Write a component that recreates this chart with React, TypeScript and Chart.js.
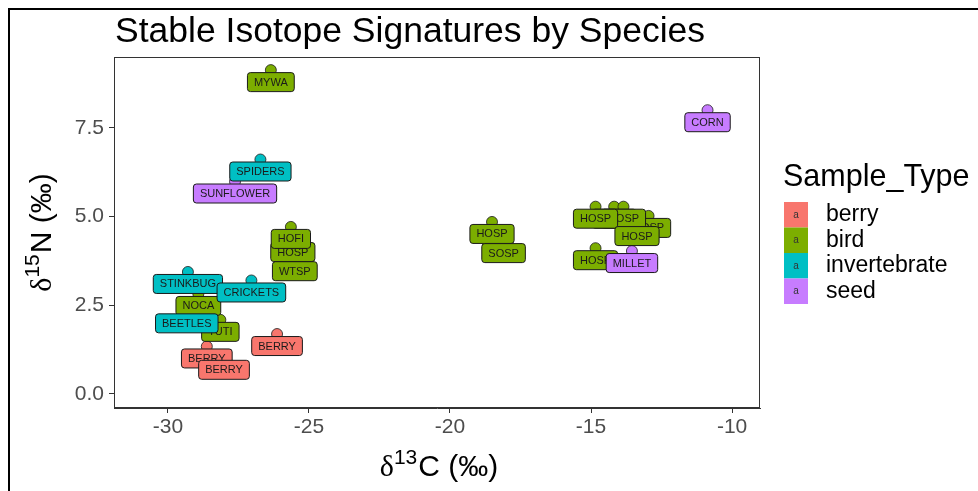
import React, { useEffect, useRef } from 'react';
import { Chart, registerables } from 'chart.js';

Chart.register(...registerables);

// ---- data (in label drawing order) ----
const sampleNames = [
  'HOSP', 'HOFI', 'WTSP', 'MYWA', 'SUNFLOWER', 'SPIDERS', 'TUTI', 'NOCA',
  'STINKBUG', 'CRICKETS', 'BEETLES', 'BERRY', 'BERRY', 'BERRY', 'HOSP', 'SOSP',
  'HOSP', 'HOSP', 'HOSP', 'HOSP', 'HOSP', 'HOSP', 'MILLET', 'CORN',
];
const sampleTypes = [
  'bird', 'bird', 'bird', 'bird', 'seed', 'invertebrate', 'bird', 'bird',
  'invertebrate', 'invertebrate', 'invertebrate', 'berry', 'berry', 'berry', 'bird', 'bird',
  'bird', 'bird', 'bird', 'bird', 'bird', 'bird', 'seed', 'seed',
];
const d13C = [
  -25.57, -25.64, -25.50, -26.35, -27.62, -26.72, -28.14, -28.92,
  -29.29, -27.04, -29.33, -28.62, -28.01, -26.13, -18.51, -18.10,
  -12.96, -14.18, -13.85, -14.84, -13.37, -14.84, -13.55, -10.87,
];
const d15N = [
  4.34, 4.71, 3.80, 9.13, 5.99, 6.61, 2.09, 2.82,
  3.44, 3.20, 2.33, 1.34, 1.02, 1.69, 4.85, 4.31,
  5.02, 5.28, 5.28, 5.28, 4.79, 4.11, 4.03, 8.00,
];

const typeNames = ['berry', 'bird', 'invertebrate', 'seed'];
const typeColors = ['#F8766D', '#7CAE00', '#00BFC4', '#C77CFF'];

const xTicks = [-30, -25, -20, -15, -10];
const yTicks = [0, 2.5, 5, 7.5];
const X_MIN = -31.91;
const X_MAX = -9.01;
const Y_MIN = -0.395;
const Y_MAX = 9.5;

const chartTitle = 'Stable Isotope Signatures by Species';
const legendTitle = 'Sample_Type';

const SANS = "'Liberation Sans', Arial, sans-serif";
const SERIF = "'Liberation Serif', 'DejaVu Serif', serif";

function roundRect(ctx: CanvasRenderingContext2D, x: number, y: number, w: number, h: number, r: number) {
  ctx.beginPath();
  ctx.moveTo(x + r, y);
  ctx.lineTo(x + w - r, y);
  ctx.arcTo(x + w, y, x + w, y + r, r);
  ctx.lineTo(x + w, y + h - r);
  ctx.arcTo(x + w, y + h, x + w - r, y + h, r);
  ctx.lineTo(x + r, y + h);
  ctx.arcTo(x, y + h, x, y + h - r, r);
  ctx.lineTo(x, y + r);
  ctx.arcTo(x, y, x + r, y, r);
  ctx.closePath();
}

function drawDeltaLabel(ctx: CanvasRenderingContext2D, sup: string, rest: string, cx: number, baseline: number) {
  const mainFont = `30px ${SANS}`;
  const deltaFont = `30px ${SERIF}`;
  const supFont = `21px ${SANS}`;
  ctx.font = deltaFont;
  const wd = ctx.measureText('δ').width;
  ctx.font = supFont;
  const ws = ctx.measureText(sup).width;
  ctx.font = mainFont;
  const wr = ctx.measureText(rest).width;
  const total = wd + ws + 1 + wr;
  let x = cx - total / 2;
  ctx.textAlign = 'left';
  ctx.textBaseline = 'alphabetic';
  ctx.fillStyle = '#000000';
  ctx.font = deltaFont;
  ctx.fillText('δ', x, baseline);
  x += wd;
  ctx.font = supFont;
  ctx.fillText(sup, x, baseline - 12);
  x += ws + 1;
  ctx.font = mainFont;
  ctx.fillText(rest, x, baseline);
}

const decorPlugin = {
  id: 'decor',
  beforeDraw(chart: any) {
    const ctx: CanvasRenderingContext2D = chart.ctx;
    ctx.save();
    ctx.fillStyle = '#ffffff';
    ctx.fillRect(0, 0, chart.width, chart.height);
    ctx.fillStyle = '#000000';
    ctx.fillRect(8, 8, 2, chart.height - 8);
    ctx.fillRect(8, 8, chart.width - 8, 2);
    ctx.restore();
  },
  afterDatasetsDraw(chart: any) {
    const ctx: CanvasRenderingContext2D = chart.ctx;
    const xs = chart.scales.x;
    const ys = chart.scales.y;
    ctx.save();
    ctx.font = `11px ${SANS}`;
    ctx.textAlign = 'center';
    ctx.textBaseline = 'middle';
    for (let i = 0; i < sampleNames.length; i++) {
      const name = sampleNames[i];
      const col = typeColors[typeNames.indexOf(sampleTypes[i])];
      const cx = xs.getPixelForValue(d13C[i]);
      const cy = ys.getPixelForValue(d15N[i]) + 12;
      const w = ctx.measureText(name).width + 13;
      const h = 19;
      roundRect(ctx, cx - w / 2, cy - h / 2, w, h, 3);
      ctx.fillStyle = col;
      ctx.fill();
      ctx.lineWidth = 1;
      ctx.strokeStyle = '#1a1a1a';
      ctx.stroke();
      ctx.fillStyle = '#1a1a1a';
      ctx.fillText(name, cx, cy + 0.5);
    }
    // panel border
    const a = chart.chartArea;
    ctx.strokeStyle = '#333333';
    ctx.lineWidth = 1;
    ctx.strokeRect(a.left + 0.5, a.top + 0.5, a.right - a.left - 1, a.bottom - a.top - 1);
    ctx.restore();
  },
  afterDraw(chart: any) {
    const ctx: CanvasRenderingContext2D = chart.ctx;
    const a = chart.chartArea;
    ctx.save();
    // title
    ctx.fillStyle = '#000000';
    ctx.font = `35.5px ${SANS}`;
    ctx.textAlign = 'left';
    ctx.textBaseline = 'alphabetic';
    ctx.fillText(chartTitle, a.left + 1, 42);
    // axis titles
    drawDeltaLabel(ctx, '13', 'C (‰)', (a.left + a.right) / 2 + 2, 476);
    ctx.save();
    ctx.translate(51, (a.top + a.bottom) / 2);
    ctx.rotate(-Math.PI / 2);
    drawDeltaLabel(ctx, '15', 'N (‰)', 0, 0);
    ctx.restore();
    // legend
    const lx = 783;
    ctx.fillStyle = '#000000';
    ctx.font = `30.5px ${SANS}`;
    ctx.textAlign = 'left';
    ctx.textBaseline = 'alphabetic';
    ctx.fillText(legendTitle, lx, 186);
    const keyTop = 202;
    const keyH = 25.5;
    const keyW = 24;
    for (let k = 0; k < typeNames.length; k++) {
      const y0 = keyTop + k * keyH;
      ctx.fillStyle = typeColors[k];
      ctx.fillRect(lx + 1, y0, keyW, keyH);
      ctx.fillStyle = '#333333';
      ctx.font = `10px ${SANS}`;
      ctx.textAlign = 'center';
      ctx.textBaseline = 'middle';
      ctx.fillText('a', lx + 1 + keyW / 2, y0 + keyH / 2);
      ctx.fillStyle = '#000000';
      ctx.font = `23px ${SANS}`;
      ctx.textAlign = 'left';
      ctx.fillText(typeNames[k], lx + 43, y0 + keyH / 2);
    }
    ctx.restore();
  },
};

export default function App() {
  const ref = useRef<HTMLCanvasElement>(null);
  useEffect(() => {
    const canvas = ref.current!;
    const chart = new Chart(canvas, {
      type: 'scatter',
      data: {
        datasets: typeNames.map((t, k) => ({
          label: t,
          data: sampleNames
            .map((_, i) => i)
            .filter((i) => sampleTypes[i] === t)
            .map((i) => ({ x: d13C[i], y: d15N[i] })),
          backgroundColor: typeColors[k],
          borderColor: '#1a1a1a',
          borderWidth: 0.8,
          pointRadius: 5.5,
          pointHoverRadius: 5.5,
        })),
      },
      options: {
        responsive: false,
        animation: false,
        events: [],
        layout: { padding: { left: 0, top: 57, right: 218, bottom: 0 } },
        plugins: {
          legend: { display: false },
          tooltip: { enabled: false },
          title: { display: false },
        },
        scales: {
          x: {
            type: 'linear',
            min: X_MIN,
            max: X_MAX,
            afterFit: (s: any) => { s.height = 83; },
            afterBuildTicks: (s: any) => { s.ticks = xTicks.map((v) => ({ value: v })); },
            ticks: {
              font: { family: SANS, size: 21 },
              color: '#4D4D4D',
              padding: 2,
              maxRotation: 0,
              autoSkip: false,
              callback: (v: any) => String(v),
            },
            grid: { drawOnChartArea: false, drawTicks: true, tickLength: 5, color: '#333333', lineWidth: 1 },
            border: { display: true, color: '#333333', width: 1 },
          },
          y: {
            type: 'linear',
            min: Y_MIN,
            max: Y_MAX,
            afterFit: (s: any) => { s.width = 114; },
            afterBuildTicks: (s: any) => { s.ticks = yTicks.map((v) => ({ value: v })); },
            ticks: {
              font: { family: SANS, size: 21 },
              color: '#4D4D4D',
              padding: 5,
              autoSkip: false,
              callback: (v: any) => Number(v).toFixed(1),
            },
            grid: { drawOnChartArea: false, drawTicks: true, tickLength: 5, color: '#333333', lineWidth: 1 },
            border: { display: true, color: '#333333', width: 1 },
          },
        },
      },
      plugins: [decorPlugin],
    } as any);
    return () => chart.destroy();
  }, []);
  return (
    <div style={{ position: 'fixed', left: 0, top: 0, width: 978, height: 491, background: '#ffffff' }}>
      <canvas ref={ref} width={978} height={491} style={{ display: 'block', width: 978, height: 491 }} />
    </div>
  );
}
